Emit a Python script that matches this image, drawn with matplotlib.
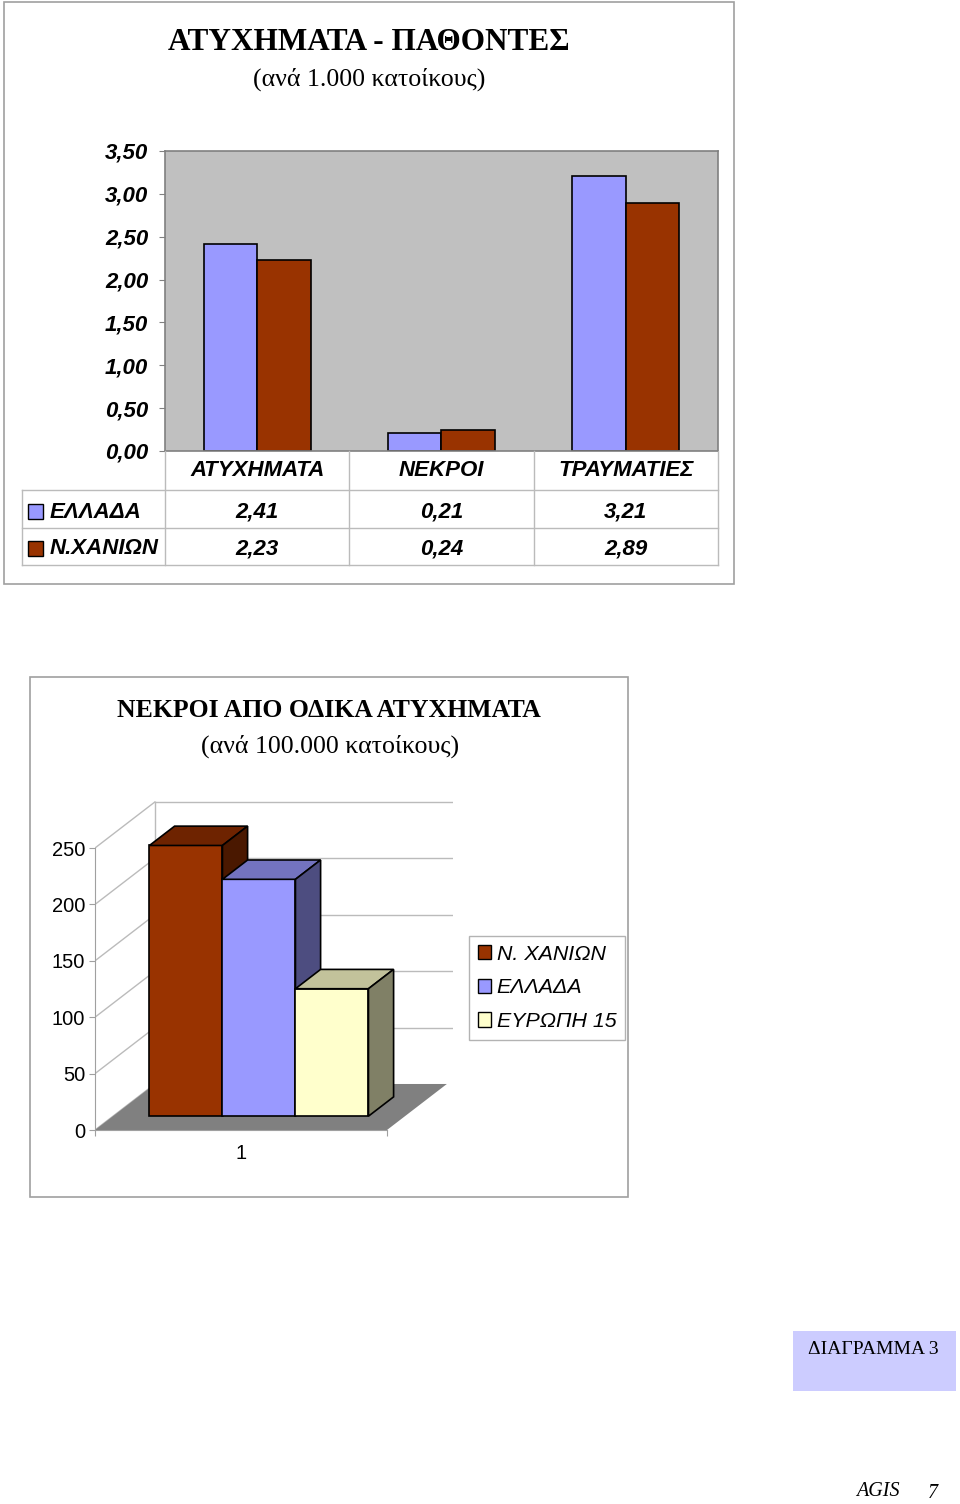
import matplotlib
matplotlib.use('Agg')
import matplotlib.pyplot as plt
from matplotlib.patches import Rectangle, Polygon, Patch
from matplotlib.lines import Line2D
from matplotlib.transforms import blended_transform_factory

# data - top chart (per 1.000 inhabitants)
categories = ['ΑΤΥΧΗΜΑΤΑ', 'ΝΕΚΡΟΙ', 'ΤΡΑΥΜΑΤΙΕΣ']
series = ['ΕΛΛΑΔΑ', 'Ν.ΧΑΝΙΩΝ']
greece = [2.41, 0.21, 3.21]
chania = [2.23, 0.24, 2.89]
top_yticks = [0, 0.5, 1.0, 1.5, 2.0, 2.5, 3.0, 3.5]

# data - bottom chart (deaths)
death_labels = ['Ν. ΧΑΝΙΩΝ', 'ΕΛΛΑΔΑ', 'ΕΥΡΩΠΗ 15']
deaths = [240, 210, 113]
bottom_yticks = [0, 50, 100, 150, 200, 250]

W, H = 960, 1504
fig = plt.figure(figsize=(W / 100, H / 100), dpi=100)

def fx(px):
    return px / W

def fy(py):
    return 1 - py / H

def comma(v):
    return ('%.2f' % v).replace('.', ',')

SANS = 'Liberation Sans'
SERIF = 'Liberation Serif'
c_gr = '#9999FF'
c_ch = '#993300'
c_eu = '#FFFFCC'
grid_c = '#BBBBBB'
bi = dict(family=SANS, weight='bold', style='italic', size=16)

# ---------------- top chart ----------------
fig.add_artist(Rectangle((fx(4), fy(584)), fx(730), (584 - 2) / H, transform=fig.transFigure,
                         fill=False, edgecolor='#A0A0A0', lw=1.2))
fig.text(fx(369), fy(43), 'ΑΤΥΧΗΜΑΤΑ - ΠΑΘΟΝΤΕΣ', family=SERIF, weight='bold', size=22.5,
         ha='center', va='center')
fig.text(fx(369), fy(79), '(ανά 1.000 κατοίκους)', family=SERIF, size=18.6, ha='center', va='center')

ax1 = fig.add_axes([fx(165), fy(451), (718 - 165) / W, (451 - 151) / H])
ax1.set_facecolor('#C0C0C0')
x = list(range(len(categories)))
bw = 0.29
ax1.bar([i - bw / 2 for i in x], greece, bw, color=c_gr, edgecolor='black', lw=1.2)
ax1.bar([i + bw / 2 for i in x], chania, bw, color=c_ch, edgecolor='black', lw=1.2)
ax1.set_xlim(-0.5, 2.5)
ax1.set_ylim(0, 3.5)
ax1.set_xticks([])
ax1.set_yticks(top_yticks)
ax1.set_yticklabels([comma(v) for v in top_yticks], **bi)
ax1.tick_params(axis='y', length=4, color='#808080', pad=8)
for s in ax1.spines.values():
    s.set_color('#808080')
    s.set_linewidth(1.2)

# data table under the chart
tr = blended_transform_factory(ax1.transData, fig.transFigure)
for xb in [-0.5, 0.5, 1.5, 2.5]:
    fig.add_artist(Line2D([xb, xb], [fy(451), fy(565)], transform=tr, color=grid_c, lw=1))
for yl in [490, 528, 565]:
    fig.add_artist(Line2D([fx(22), fx(718)], [fy(yl), fy(yl)], color=grid_c, lw=1))
fig.add_artist(Line2D([fx(22), fx(22)], [fy(490), fy(565)], color=grid_c, lw=1))
for i, c in enumerate(categories):
    fig.text(i, fy(471), c, transform=tr, ha='center', va='center', **bi)
rows = [(series[0], greece, c_gr, 512), (series[1], chania, c_ch, 549)]
for name, vals, col, yc in rows:
    fig.add_artist(Rectangle((fx(28), fy(yc + 7)), 15 / W, 15 / H, transform=fig.transFigure,
                             facecolor=col, edgecolor='black', lw=1))
    fig.text(fx(50), fy(yc), name, ha='left', va='center', **bi)
    for i, v in enumerate(vals):
        fig.text(i, fy(yc), comma(v), transform=tr, ha='center', va='center', **bi)

# ---------------- bottom chart (3D look) ----------------
fig.add_artist(Rectangle((fx(30), fy(1197)), (628 - 30) / W, (1197 - 677) / H, transform=fig.transFigure,
                         fill=False, edgecolor='#A0A0A0', lw=1.2))
fig.text(fx(329), fy(711), 'ΝΕΚΡΟΙ ΑΠΟ ΟΔΙΚΑ ΑΤΥΧΗΜΑΤΑ', family=SERIF, weight='bold', size=18.5,
         ha='center', va='center')
fig.text(fx(330), fy(746), '(ανά 100.000 κατοίκους)', family=SERIF, size=18.6, ha='center', va='center')

px_x = 73.0    # pixels per bar width
px_y = 1.128   # pixels per unit of value
xmax, ymax = 4.9, 295
ax2 = fig.add_axes([fx(95), fy(1130), xmax * px_x / W, ymax * px_y / H])
ax2.set_xlim(0, xmax)
ax2.set_ylim(0, ymax)
ax2.patch.set_alpha(0)

ddx, ddy = 0.82, 40.8   # depth of the floor
front, back = 0.30, 0.72
nfloor = len(deaths) + 1

# walls and floor
ax2.add_patch(Polygon([(0, 0), (nfloor, 0), (nfloor + ddx, ddy), (ddx, ddy)], closed=True,
                      facecolor='#808080', edgecolor='none', zorder=1))
for v in bottom_yticks:
    ax2.plot([0, ddx], [v, v + ddy], color=grid_c, lw=1, zorder=0.5)
    if v > 0:
        ax2.plot([ddx, xmax], [v + ddy, v + ddy], color=grid_c, lw=1, zorder=0.5)
ax2.plot([ddx, ddx], [ddy, bottom_yticks[-1] + ddy], color=grid_c, lw=1, zorder=0.5)

shade = {c_ch: ('#6E2300', '#4A1800'), c_gr: ('#7373BF', '#4D4D80'), c_eu: ('#C2C29B', '#808066')}
colors = [c_ch, c_gr, c_eu]
for i, v in enumerate(deaths):
    x0 = 0.5 + i
    x1 = x0 + 1
    fx0, fy0 = front * ddx, front * ddy
    bx0, by0 = back * ddx, back * ddy
    top_c, side_c = shade[colors[i]]
    ax2.add_patch(Rectangle((x0 + fx0, fy0), 1, v, facecolor=colors[i], edgecolor='black', lw=1.2, zorder=3 + i))
    ax2.add_patch(Polygon([(x0 + fx0, v + fy0), (x1 + fx0, v + fy0), (x1 + bx0, v + by0), (x0 + bx0, v + by0)],
                          closed=True, facecolor=top_c, edgecolor='black', lw=1.2, zorder=3 + i))
    ax2.add_patch(Polygon([(x1 + fx0, fy0), (x1 + bx0, by0), (x1 + bx0, v + by0), (x1 + fx0, v + fy0)],
                          closed=True, facecolor=side_c, edgecolor='black', lw=1.2, zorder=3 + i))

for k in ['top', 'right']:
    ax2.spines[k].set_visible(False)
ax2.spines['left'].set_bounds(0, bottom_yticks[-1])
ax2.spines['bottom'].set_bounds(0, nfloor)
for k in ['left', 'bottom']:
    ax2.spines[k].set_color('#A0A0A0')
ax2.set_yticks(bottom_yticks)
ax2.set_yticklabels([str(v) for v in bottom_yticks], family=SANS, size=14.5)
ax2.tick_params(axis='y', length=4, color='#A0A0A0', pad=3)
ax2.set_xticks([0, nfloor])
ax2.set_xticklabels(['', ''])
ax2.set_xticks([nfloor / 2], minor=True)
ax2.set_xticklabels(['1'], minor=True, family=SANS, size=14.5)
ax2.tick_params(axis='x', which='major', length=4, color='#A0A0A0')
ax2.tick_params(axis='x', which='minor', length=0, pad=10)

handles = [Patch(facecolor=c, edgecolor='black', lw=1) for c in colors]
leg = fig.legend(handles, death_labels, loc='upper left', bbox_to_anchor=(fx(469), fy(936)),
                 bbox_transform=fig.transFigure, fancybox=False, frameon=True, handlelength=0.65,
                 handleheight=0.65, handletextpad=0.25, labelspacing=0.69, borderpad=0.4,
                 borderaxespad=0, prop={'family': SANS, 'style': 'italic', 'size': 15.4})
leg.get_frame().set_edgecolor('#A0A0A0')
leg.get_frame().set_linewidth(1)

# ---------------- page decorations ----------------
fig.add_artist(Rectangle((fx(793), fy(1391)), (956 - 793) / W, 60 / H, transform=fig.transFigure,
                         facecolor='#CCCCFF', edgecolor='none'))
fig.text(fx(808), fy(1350), 'ΔΙΑΓΡΑΜΜΑ 3', family=SERIF, size=14, ha='left', va='center')
fig.text(fx(856), fy(1492), 'AGIS', family=SERIF, style='italic', size=14.5, ha='left', va='center')
fig.text(fx(928), fy(1493), '7', family=SERIF, style='italic', size=14.5, ha='left', va='center')

fig.savefig('out.png', dpi=100)
